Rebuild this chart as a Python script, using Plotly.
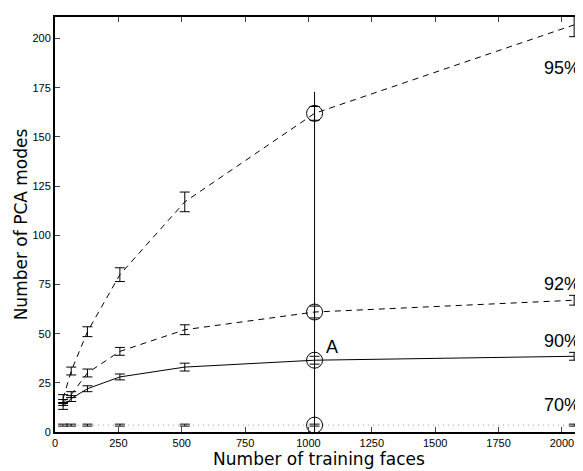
import plotly.graph_objects as go

x_faces = [32, 64, 128, 256, 512, 1024, 2048]
y95 = [17, 31, 51, 80, 117, 162, 207]
e95 = [2, 2, 2.5, 3.5, 5, 3.5, 6]
y92 = [15, 19, 30, 41, 52, 61, 67]
e92 = [1.5, 1.5, 2, 2, 2.5, 3, 2.5]
y90 = [13, 17, 22, 28, 33, 36.5, 38.5]
e90 = [1.5, 1.5, 1.5, 1.5, 2, 2, 2]
y70 = [3.5, 3.5, 3.5, 3.5, 3.5, 3.5, 3.5]
e70 = [0.5, 0.5, 0.5, 0.5, 0.5, 0.5, 0.5]
x_sel = 1024
vline_top = 173
labels = ["95%", "92%", "90%", "70%"]
label_y = [185, 75, 46.5, 13.5]
yticks = [0, 25, 50, 75, 100, 125, 150, 175, 200]
xticks = [0, 250, 500, 750, 1000, 1250, 1500, 1750, 2000]

fig = go.Figure()

def series(y, e, dash, color="black"):
    fig.add_trace(go.Scatter(
        x=x_faces, y=y, mode="lines",
        line=dict(color=color, width=1, dash=dash),
        error_y=dict(type="data", array=e, visible=True, color="black",
                     thickness=1, width=5),
        showlegend=False, hoverinfo="skip"))

series(y95, e95, "6px,5px")
series(y92, e92, "6px,5px")
series(y90, e90, "solid")
series(y70, e70, "1px,4px", "#999999")

# vertical line at 1024
fig.add_trace(go.Scatter(x=[x_sel, x_sel], y=[0, vline_top], mode="lines",
                         line=dict(color="black", width=1),
                         showlegend=False, hoverinfo="skip"))

# circles
idx = x_faces.index(x_sel)
fig.add_trace(go.Scatter(
    x=[x_sel] * 4, y=[y95[idx], y92[idx], y90[idx], y70[idx]],
    mode="markers",
    marker=dict(symbol="circle-open", size=16, color="black", line=dict(width=1)),
    showlegend=False, hoverinfo="skip"))

font_lbl = dict(family="Liberation Sans", size=18, color="black")
for t, yy in zip(labels, label_y):
    fig.add_annotation(x=2000, y=yy, text=t, showarrow=False, font=font_lbl,
                       xanchor="center", yanchor="middle")
fig.add_annotation(x=1093, y=43, text="A", showarrow=False, font=font_lbl,
                   xanchor="center", yanchor="middle")

# page body has an 8px margin: shrink figure and margins accordingly
fig.update_layout(
    width=575, height=463,
    margin=dict(l=47, r=0, t=9, b=39),
    plot_bgcolor="white", paper_bgcolor="white",
    font=dict(family="Liberation Sans", size=11, color="black"),
)
fig.update_xaxes(
    range=[0, 2083], tickvals=xticks, ticks="inside", ticklen=5,
    showline=True, linecolor="black", linewidth=2, mirror="ticks",
    showgrid=False, zeroline=False, automargin=False,
    title=dict(text="Number of training faces", font=dict(family="DejaVu Sans", size=17), standoff=0),
)
fig.update_yaxes(
    range=[0, 211], tickvals=yticks, ticks="inside", ticklen=5,
    showline=True, linecolor="black", linewidth=2,
    showgrid=False, zeroline=False, automargin=False,
    title=dict(text="Number of PCA modes", font=dict(family="DejaVu Sans", size=17), standoff=0),
)

fig.write_html("out.html")
